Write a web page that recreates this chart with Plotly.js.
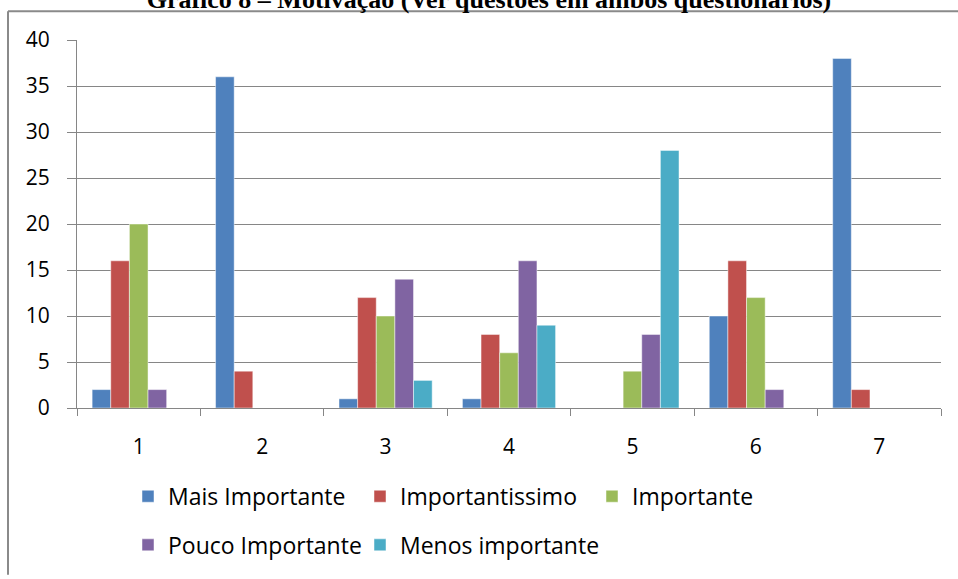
<!DOCTYPE html>
<html>
<head>
<meta charset="utf-8">
<script src="https://cdn.plot.ly/plotly-3.0.1.min.js"></script>
<style>
html,body{margin:0;padding:0;background:#fff;}
#chart{width:958px;height:579px;}
</style>
</head>
<body>
<div id="chart"></div>
<script>
const categories = ["1","2","3","4","5","6","7"];
const seriesNames = ["Mais Importante","Importantissimo","Importante","Pouco Importante","Menos importante"];
const maisImportante   = [2, 36, 1, 1, 0, 10, 38];
const importantissimo  = [16, 4, 12, 8, 0, 16, 2];
const importante       = [20, 0, 10, 6, 4, 12, 0];
const poucoImportante  = [2, 0, 14, 16, 8, 2, 0];
const menosImportante  = [0, 0, 3, 9, 28, 0, 0];
const colors = ["#4F81BD","#C0504D","#9BBB59","#8064A2","#4BACC6"];
const seriesValues = [maisImportante, importantissimo, importante, poucoImportante, menosImportante];
const legendOf = ["legend","legend","legend","legend2","legend3"];

const traces = seriesValues.map((vals, i) => ({
  type: "bar",
  name: seriesNames[i],
  x: categories,
  y: vals,
  marker: {color: colors[i], line: {color: "rgba(255,255,255,0.6)", width: 0.8}},
  legend: legendOf[i],
  hoverinfo: "x+y+name"
}));

// plot area in pixels
const L = 77, R = 941, T = 40, B = 411, W = 958, H = 579;
const px2x = p => (p - L) / (R - L);
const py2y = p => (B - p) / (B - T);

const fontFam = "'Open Sans', 'Noto Sans', sans-serif";
const legFont = {family: fontFam, size: 23, color: "#000"};

const layout = {
  width: W, height: H,
  margin: {l: L, r: W - R, t: T, b: H - B, pad: 0},
  paper_bgcolor: "#ffffff",
  plot_bgcolor: "#ffffff",
  bargap: 0.245,
  bargroupgap: 0,
  title: {
    text: "<b>Gráfico 8 – Motivação (Ver questões em ambos questionários)</b>",
    font: {family: "'Liberation Serif', 'Times New Roman', serif", size: 26, color: "#000"},
    x: 489 / W, xanchor: "center",
    y: 1 - 8 / H, yanchor: "bottom",
    xref: "container", yref: "container"
  },
  xaxis: {
    type: "category",
    tickson: "boundaries",
    ticks: "outside", ticklen: 7, tickcolor: "#868686", tickwidth: 1,
    showline: true, linecolor: "#868686", linewidth: 1,
    showgrid: false,
    tickfont: {family: fontFam, size: 21, color: "#000"},
    ticklabelstandoff: 20,
    fixedrange: true
  },
  yaxis: {
    range: [0, 40],
    dtick: 5,
    tick0: 0,
    ticks: "outside", ticklen: 9, tickcolor: "#868686", tickwidth: 1,
    showline: true, linecolor: "#868686", linewidth: 1,
    showgrid: true, gridcolor: "#868686", gridwidth: 1,
    zeroline: false,
    tickfont: {family: fontFam, size: 21, color: "#000"},
    ticklabelstandoff: 13,
    fixedrange: true
  },
  legend: {
    orientation: "h",
    x: px2x(128), xanchor: "left",
    y: py2y(500), yanchor: "middle",
    entrywidth: 187, entrywidthmode: "pixels",
    font: legFont,
    itemwidth: 30,
    bgcolor: "rgba(0,0,0,0)"
  },
  legend2: {
    orientation: "h",
    x: px2x(128), xanchor: "left",
    y: py2y(549), yanchor: "middle",
    font: legFont,
    itemwidth: 30,
    bgcolor: "rgba(0,0,0,0)"
  },
  legend3: {
    orientation: "h",
    x: px2x(360), xanchor: "left",
    y: py2y(549), yanchor: "middle",
    font: legFont,
    itemwidth: 30,
    bgcolor: "rgba(0,0,0,0)"
  },
  shapes: [
    {type: "line", xref: "paper", yref: "paper",
     x0: px2x(8), x1: px2x(958), y0: py2y(11), y1: py2y(11),
     line: {color: "#8a8a8a", width: 2}},
    {type: "line", xref: "paper", yref: "paper",
     x0: px2x(8), x1: px2x(8), y0: py2y(11), y1: py2y(579),
     line: {color: "#8a8a8a", width: 2}}
  ],
  showlegend: true
};

Plotly.newPlot("chart", traces, layout, {displayModeBar: false, staticPlot: true});
</script>
</body>
</html>
